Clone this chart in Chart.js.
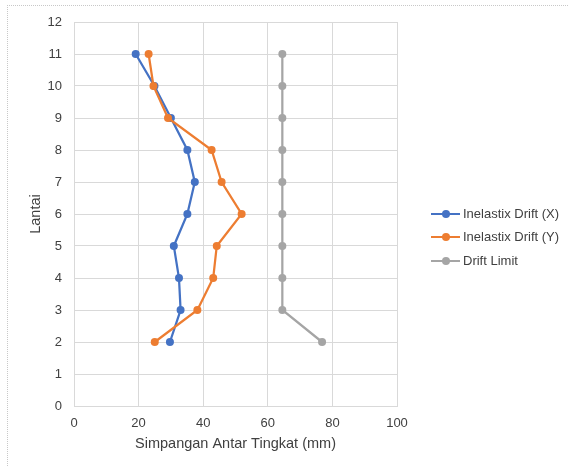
<!DOCTYPE html>
<html lang="id">
<head>
<meta charset="UTF-8">
<title>Simpangan Antar Tingkat</title>
<script src="https://cdn.jsdelivr.net/npm/chart.js"></script>
<style>
    html, body { margin: 0; padding: 0; background: #fff; }
    #wrap { position: relative; width: 569px; height: 466px; overflow: hidden; font-family: "Liberation Sans", Arial, sans-serif; }
    #frame { position: absolute; left: 7px; top: 5px; width: 600px; height: 500px; border-left: 1px dotted #c8c8c8; border-top: 1px dotted #c8c8c8; }
    #chart { position: absolute; left: 0; top: 0; }
    .leg { position: absolute; left: 431px; height: 16px; font-size: 13px; color: #404040; line-height: 16px; white-space: nowrap; }
    .leg .ln { position: absolute; left: 0; top: 7px; width: 29px; height: 2.25px; }
    .leg .dot { position: absolute; left: 11px; top: 4px; width: 8px; height: 8px; border-radius: 50%; }
    .leg .tx { position: absolute; left: 32px; top: 0; }
</style>
</head>
<body>
<div id="wrap">
    <div id="frame"></div>
    <canvas id="chart" width="569" height="466"></canvas>
    <div id="legend"></div>
</div>

<script>
    // floor numbers (Lantai)
    const floors = [2, 3, 4, 5, 6, 7, 8, 9, 10, 11];
    // story drift in mm
    const driftX = [29.7, 33.0, 32.5, 30.9, 35.1, 37.4, 35.1, 30.0, 24.9, 19.1];
    const driftY = [25.0, 38.2, 43.1, 44.2, 51.9, 45.7, 42.6, 29.1, 24.6, 23.1];
    const driftLimit = [76.8, 64.5, 64.5, 64.5, 64.5, 64.5, 64.5, 64.5, 64.5, 64.5];

    const seriesNames = ['Inelastix Drift (X)', 'Inelastix Drift (Y)', 'Drift Limit'];
    const seriesColors = ['#4472C4', '#ED7D31', '#A5A5A5'];
    const seriesValues = [driftX, driftY, driftLimit];

    const textColor = '#404040';
    const gridColor = '#D9D9D9';

    const datasets = seriesValues.map(function(vals, i) {
        return {
            label: seriesNames[i],
            data: vals.map(function(v, k) { return { x: v, y: floors[k] }; }),
            showLine: true,
            borderColor: seriesColors[i],
            backgroundColor: seriesColors[i],
            borderWidth: 2.25,
            pointRadius: 4,
            pointBorderWidth: 0,
            pointHoverRadius: 4,
            order: 2 - i
        };
    });

    new Chart(document.getElementById('chart').getContext('2d'), {
        type: 'scatter',
        data: { datasets: datasets },
        options: {
            responsive: false,
            animation: false,
            layout: { padding: { left: 22, right: 172, top: 22, bottom: 0 } },
            plugins: {
                legend: { display: false },
                tooltip: { enabled: false }
            },
            scales: {
                x: {
                    min: 0,
                    max: 100,
                    ticks: { stepSize: 20, padding: 10, color: textColor, font: { family: 'Liberation Sans', size: 13 } },
                    grid: { color: gridColor, drawTicks: false },
                    border: { color: gridColor },
                    title: {
                        display: true,
                        text: 'Simpangan Antar Tingkat (mm)',
                        color: textColor,
                        font: { family: 'Liberation Sans', size: 14.5 },
                        padding: { top: 4, bottom: 13 }
                    },
                    afterFit: function(scale) { scale.height = 60; }
                },
                y: {
                    min: 0,
                    max: 12,
                    ticks: { stepSize: 1, padding: 12, color: textColor, font: { family: 'Liberation Sans', size: 13 } },
                    grid: { color: gridColor, drawTicks: false },
                    border: { color: gridColor },
                    title: {
                        display: true,
                        text: 'Lantai',
                        color: textColor,
                        font: { family: 'Liberation Sans', size: 14.5 },
                        padding: 5
                    },
                    afterFit: function(scale) { scale.width = 52; }
                }
            }
        }
    });

    // legend on the right, built from the same series lists
    const legend = document.getElementById('legend');
    const legendTop = [206, 229, 253];
    seriesNames.forEach(function(name, i) {
        const row = document.createElement('div');
        row.className = 'leg';
        row.style.top = legendTop[i] + 'px';
        row.innerHTML = '<div class="ln" style="background:' + seriesColors[i] + '"></div>' +
            '<div class="dot" style="background:' + seriesColors[i] + '"></div>' +
            '<span class="tx">' + name + '</span>';
        legend.appendChild(row);
    });
</script>
</body>
</html>
